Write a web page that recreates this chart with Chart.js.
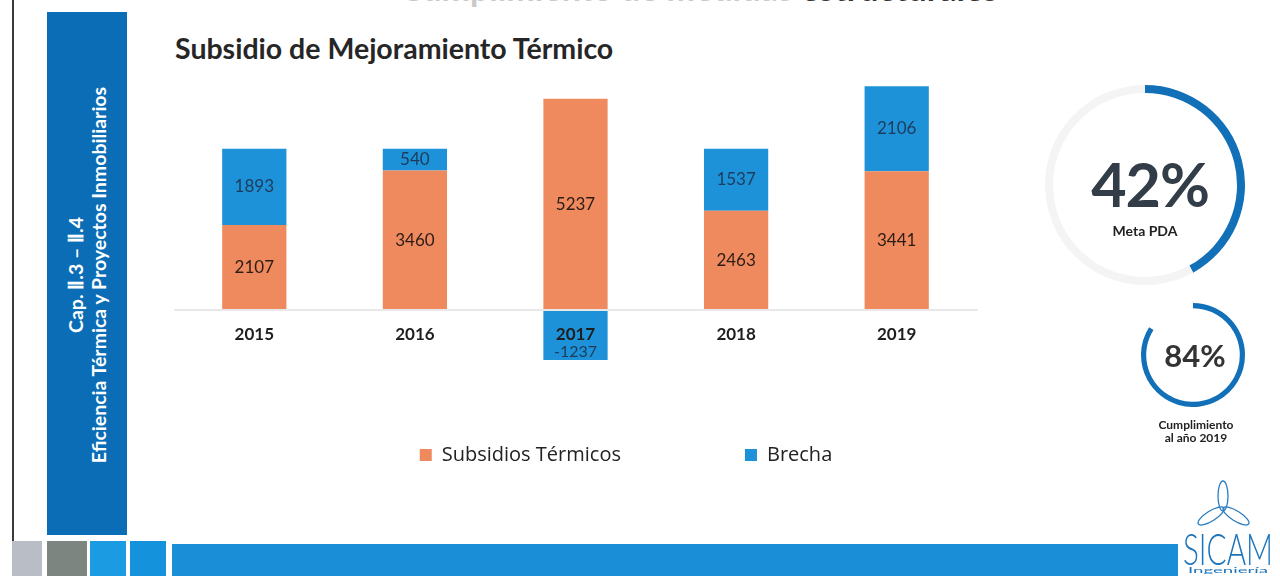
<!DOCTYPE html>
<html>
<head>
<meta charset="utf-8">
<script src="https://cdn.jsdelivr.net/npm/chart.js@4.4.1/dist/chart.umd.min.js"></script>
<style>
    body { margin: 0; width: 1280px; height: 576px; position: relative; overflow: hidden; background: #fff; font-family: Lato, "Noto Sans", sans-serif; }
    .abs { position: absolute; }
    #edge { left: 12px; top: 0; width: 2px; height: 576px; background: #3a3a3a; }
    #topHead { left: 300px; top: -33px; width: 698px; text-align: right; font-weight: 700; font-size: 34px; color: #333; white-space: nowrap; }
    #topHead span { color: #c9c9c9; }
    #side { left: 47px; top: 12px; width: 80px; height: 523px; background: #0b6db5; }
    #sideText { left: -171px; top: 250px; width: 520px; height: 50px; transform: rotate(-90deg); color: #fff; font-weight: 700; font-size: 19.5px; line-height: 23px; text-align: center; }
    #title { left: 175px; top: 31px; font-weight: 700; font-size: 28.5px; color: #262626; }
    #mainBox { left: 174px; top: 60px; width: 904px; height: 415px; }
    #ringBig { left: 1045px; top: 85px; width: 200px; height: 200px; }
    #ringSmall { left: 1141px; top: 303px; width: 104px; height: 104px; }
    #pctBig { left: 1045px; top: 147px; width: 210px; text-align: center; font-weight: 700; font-size: 61px; color: #333d47; letter-spacing: -1px; }
    #metaTxt { left: 1045px; top: 222px; width: 200px; text-align: center; font-weight: 700; font-size: 14px; color: #222; }
    #pctSmall { left: 1143px; top: 336px; width: 104px; text-align: center; font-weight: 700; font-size: 31px; color: #333; }
    #cumpTxt { left: 1140px; top: 418px; width: 112px; text-align: center; font-weight: 700; font-size: 12px; line-height: 13px; color: #222; }
    .sq { top: 541px; height: 35px; }
</style>
</head>
<body>
<div id="edge" class="abs"></div>
<div id="topHead" class="abs"><span>Cumplimiento de medidas </span>estructurales</div>
<div id="side" class="abs"></div>
<div id="sideText" class="abs">Cap. Ⅱ.3 – Ⅱ.4<br>Eficiencia Térmica y Proyectos Inmobiliarios</div>
<div id="title" class="abs">Subsidio de Mejoramiento Térmico</div>

<div id="mainBox" class="abs"><canvas id="mainChart"></canvas></div>
<div id="ringBig" class="abs"><canvas id="bigChart"></canvas></div>
<div id="ringSmall" class="abs"><canvas id="smallChart"></canvas></div>
<div id="pctBig" class="abs"></div>
<div id="metaTxt" class="abs">Meta PDA</div>
<div id="pctSmall" class="abs"></div>
<div id="cumpTxt" class="abs">Cumplimiento<br>al año 2019</div>

<div class="abs sq" style="left:12px;width:30px;background:#b9bdc5"></div>
<div class="abs sq" style="left:47px;width:40px;background:#7d8581"></div>
<div class="abs sq" style="left:90px;width:36px;background:#1b9be2"></div>
<div class="abs sq" style="left:130px;width:36px;background:#1592dc"></div>
<div class="abs" style="left:172px;top:544px;width:1006px;height:32px;background:#1a8fd8"></div>

<svg class="abs" style="left:1180px;top:478px" width="100" height="98" viewBox="0 0 100 98">
    <g fill="none" stroke="#2a7cc0" stroke-width="1.3">
        <ellipse cx="43" cy="18" rx="5" ry="15"/>
        <ellipse cx="31" cy="38" rx="5" ry="15" transform="rotate(58 31 38)"/>
        <ellipse cx="56" cy="38" rx="5" ry="15" transform="rotate(-58 56 38)"/>
    </g>
    <text x="3" y="87" textLength="90" lengthAdjust="spacingAndGlyphs" font-family="Lato" font-weight="300" font-size="44" fill="#1c74bb">SICAM</text>
    <text x="8" y="95" textLength="80" lengthAdjust="spacingAndGlyphs" font-family="Lato" font-size="7" fill="#1c74bb">Ingeniería</text>
</svg>

<script>
// Data
const years = ['2015', '2016', '2017', '2018', '2019'];
const subsidios = [2107, 3460, 5237, 2463, 3441];
const brecha = [1893, 540, -1237, 1537, 2106];
const seriesNames = ['Subsidios Térmicos', 'Brecha'];
const metaPDA = 42;
const cumplimiento = 84;

const ORANGE = '#ef8a5e';
const BLUE = '#1e92d8';

// Value labels inside the bars
const barLabels = {
    id: 'barLabels',
    afterDatasetsDraw(chart) {
        const ctx = chart.ctx;
        ctx.save();
        ctx.textAlign = 'center';
        ctx.textBaseline = 'middle';
        chart.data.datasets.forEach((ds, di) => {
            const meta = chart.getDatasetMeta(di);
            meta.data.forEach((bar, i) => {
                const v = ds.data[i];
                let y = (bar.y + bar.base) / 2;
                ctx.font = '17px Lato, "Noto Sans", sans-serif';
                if (v < 0) {
                    // negative gap sits under the year label
                    y = bar.y - 8;
                    ctx.font = '16px Lato, "Noto Sans", sans-serif';
                }
                ctx.fillStyle = di === 0 ? '#2b1c16' : '#1d3b5a';
                ctx.fillText(String(v), bar.x, y);
            });
        });
        ctx.restore();
    }
};

function initMainChart() {
    const ctx = document.getElementById('mainChart').getContext('2d');
    new Chart(ctx, {
        type: 'bar',
        data: {
            labels: years,
            datasets: [
                { label: seriesNames[0], data: subsidios, backgroundColor: ORANGE, clip: false },
                { label: seriesNames[1], data: brecha, backgroundColor: BLUE, clip: false }
            ]
        },
        options: {
            responsive: true,
            maintainAspectRatio: false,
            animation: false,
            categoryPercentage: 0.4,
            barPercentage: 1,
            layout: { padding: 0 },
            plugins: {
                tooltip: { enabled: false },
                legend: {
                    position: 'bottom',
                    labels: {
                        boxWidth: 12,
                        boxHeight: 12,
                        padding: 124,
                        color: '#222',
                        font: { family: '"Open Sans", sans-serif', size: 20 }
                    }
                }
            },
            scales: {
                x: {
                    stacked: true,
                    position: { y: 0 },
                    grid: { display: false },
                    border: { display: true, color: '#e8e8e8', width: 2, z: 1 },
                    ticks: {
                        z: 1,
                        padding: 6,
                        color: '#1e1e1e',
                        font: { family: 'Lato, sans-serif', size: 17, weight: 'bold' }
                    }
                },
                y: {
                    stacked: true,
                    position: 'right',
                    min: -270,
                    max: 6200,
                    grid: { display: false },
                    border: { display: false },
                    ticks: { display: false },
                    afterFit(scale) { scale.width = 101; }
                }
            }
        },
        plugins: [barLabels]
    });
}

function initRing(id, value, trackColor, cutout) {
    const ctx = document.getElementById(id).getContext('2d');
    new Chart(ctx, {
        type: 'doughnut',
        data: {
            datasets: [{
                data: [value, 100 - value],
                backgroundColor: ['#1170b8', trackColor],
                borderWidth: 0
            }]
        },
        options: {
            responsive: true,
            maintainAspectRatio: false,
            animation: false,
            cutout: cutout,
            plugins: { legend: { display: false }, tooltip: { enabled: false } }
        }
    });
}

document.getElementById('pctBig').textContent = metaPDA + '%';
document.getElementById('pctSmall').textContent = cumplimiento + '%';

initMainChart();
initRing('bigChart', metaPDA, '#f4f4f4', '92%');
initRing('smallChart', cumplimiento, 'rgba(0,0,0,0)', '90%');
</script>
</body>
</html>
